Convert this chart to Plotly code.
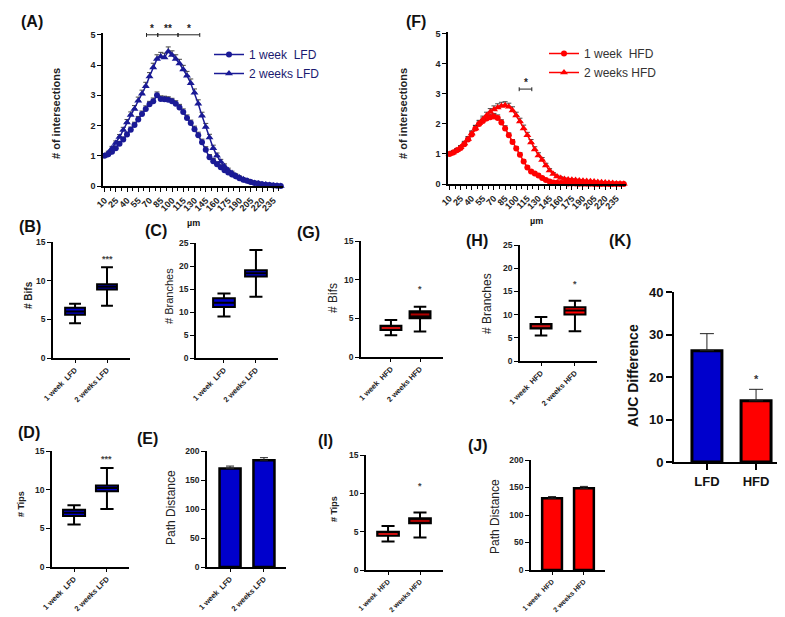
import plotly.graph_objects as go

W, H = 785, 617
FONT = "Liberation Sans, Arial, sans-serif"

# ---------------- data ----------------
radius_um = [10, 15, 20, 25, 30, 35, 40, 45, 50, 55,
             60, 65, 70, 75, 80, 85, 90, 95, 100, 105,
             110, 115, 120, 125, 130, 135, 140, 145, 150, 155,
             160, 165, 170, 175, 180, 185, 190, 195, 200, 205,
             210, 215, 220, 225, 230, 235, 240, 245]

lfd_1w = [1.00, 1.05, 1.13, 1.25, 1.40, 1.54, 1.70, 1.86, 2.02, 2.20,
          2.38, 2.55, 2.70, 2.80, 3.00, 2.88, 2.87, 2.85, 2.80, 2.72,
          2.60, 2.45, 2.25, 2.08, 1.88, 1.68, 1.45, 1.20, 0.95, 0.82,
          0.72, 0.62, 0.52, 0.45, 0.38, 0.32, 0.26, 0.21, 0.17, 0.13,
          0.10, 0.08, 0.06, 0.04, 0.03, 0.02, 0.01, 0.00]
lfd_1w_sem = [0.03, 0.04, 0.05, 0.06, 0.07, 0.08, 0.08, 0.09, 0.09, 0.10,
              0.10, 0.10, 0.10, 0.11, 0.11, 0.10, 0.10, 0.10, 0.10, 0.10,
              0.10, 0.10, 0.10, 0.10, 0.10, 0.10, 0.10, 0.10, 0.09, 0.09,
              0.08, 0.08, 0.07, 0.07, 0.06, 0.05, 0.05, 0.04, 0.04, 0.03,
              0.03, 0.03, 0.02, 0.02, 0.02, 0.01, 0.01, 0.01]
lfd_2w = [1.00, 1.10, 1.25, 1.42, 1.62, 1.85, 2.10, 2.35, 2.55, 2.82,
          3.05, 3.30, 3.62, 3.92, 4.20, 4.28, 4.25, 4.45, 4.33, 4.20,
          4.05, 3.85, 3.65, 3.40, 3.08, 2.72, 2.32, 1.95, 1.60, 1.25,
          1.00, 0.80, 0.65, 0.52, 0.43, 0.35, 0.28, 0.22, 0.17, 0.13,
          0.10, 0.08, 0.06, 0.05, 0.03, 0.02, 0.01, 0.00]
lfd_2w_sem = [0.03, 0.05, 0.06, 0.07, 0.08, 0.09, 0.10, 0.10, 0.11, 0.12,
              0.12, 0.13, 0.13, 0.14, 0.14, 0.14, 0.14, 0.15, 0.14, 0.14,
              0.14, 0.14, 0.14, 0.14, 0.13, 0.13, 0.12, 0.12, 0.11, 0.10,
              0.09, 0.08, 0.08, 0.07, 0.06, 0.05, 0.05, 0.04, 0.04, 0.03,
              0.03, 0.03, 0.02, 0.02, 0.02, 0.01, 0.01, 0.01]
hfd_1w = [1.00, 1.05, 1.12, 1.20, 1.32, 1.48, 1.65, 1.85, 2.00, 2.10,
          2.18, 2.22, 2.25, 2.20, 2.05, 1.85, 1.62, 1.40, 1.18, 0.97,
          0.75, 0.55, 0.42, 0.35, 0.28, 0.20, 0.13, 0.08, 0.05, 0.04,
          0.03, 0.03, 0.02, 0.02, 0.02, 0.01, 0.01, 0.01, 0.01, 0.00,
          0.00, 0.00, 0.00, 0.00, 0.00, 0.00, 0.00, 0.00]
hfd_1w_sem = [0.03, 0.04, 0.05, 0.06, 0.07, 0.08, 0.09, 0.10, 0.10, 0.10,
              0.10, 0.10, 0.10, 0.10, 0.09, 0.09, 0.08, 0.08, 0.07, 0.07,
              0.06, 0.05, 0.05, 0.04, 0.04, 0.03, 0.03, 0.02, 0.02, 0.02,
              0.01, 0.01, 0.01, 0.01, 0.01, 0.01, 0.01, 0.01, 0.01, 0.01,
              0.01, 0.01, 0.01, 0.01, 0.01, 0.01, 0.01, 0.01]
hfd_2w = [1.00, 1.05, 1.12, 1.22, 1.35, 1.50, 1.68, 1.85, 2.02, 2.15,
          2.28, 2.40, 2.48, 2.55, 2.60, 2.62, 2.57, 2.45, 2.28, 2.08,
          1.85, 1.62, 1.38, 1.15, 0.95, 0.80, 0.62, 0.45, 0.33, 0.25,
          0.20, 0.17, 0.15, 0.14, 0.13, 0.12, 0.11, 0.10, 0.09, 0.08,
          0.07, 0.06, 0.05, 0.04, 0.03, 0.02, 0.02, 0.01]
hfd_2w_sem = [0.03, 0.04, 0.05, 0.06, 0.07, 0.08, 0.09, 0.10, 0.10, 0.11,
              0.11, 0.11, 0.12, 0.12, 0.12, 0.12, 0.12, 0.12, 0.11, 0.11,
              0.11, 0.10, 0.10, 0.09, 0.09, 0.08, 0.07, 0.06, 0.05, 0.04,
              0.04, 0.03, 0.03, 0.03, 0.03, 0.02, 0.02, 0.02, 0.02, 0.02,
              0.02, 0.02, 0.01, 0.01, 0.01, 0.01, 0.01, 0.01]

lfd_brackets = [[66, 81, "*"], [81, 108, "**"], [108, 137, "*"]]
lfd_bracket_y = 5.0
hfd_brackets = [[104, 121, "*"]]
hfd_bracket_y = 3.16

groups_lfd = ["1 week  LFD", "2 weeks LFD"]
groups_hfd = ["1 week  HFD", "2 weeks HFD"]

# box summaries: [lowerfence, q1, median, q3, upperfence] per group
bifs_lfd = [[4.5, 5.6, 6.0, 6.5, 7.0], [6.75, 8.85, 9.2, 9.55, 11.75]]
branches_lfd = [[9.0, 11.1, 12.0, 13.0, 14.0], [13.3, 17.7, 18.4, 19.1, 23.5]]
tips_lfd = [[5.5, 6.6, 7.0, 7.4, 8.0], [7.5, 9.8, 10.2, 10.55, 12.8]]
bifs_hfd = [[2.8, 3.5, 3.75, 4.05, 4.8], [3.3, 5.0, 5.5, 5.9, 6.5]]
branches_hfd = [[5.5, 7.0, 7.5, 8.0, 9.5], [6.4, 10.0, 10.9, 11.6, 13.0]]
tips_hfd = [[3.73, 4.46, 4.7, 4.98, 5.75], [4.25, 6.1, 6.4, 6.74, 7.5]]

path_lfd = [170.0, 184.0]
path_lfd_sem = [4.0, 4.5]
path_hfd = [130.5, 148.5]
path_hfd_sem = [3.0, 3.5]

auc_groups = ["LFD", "HFD"]
auc_diff = [26.2, 14.4]
auc_sem = [4.0, 2.7]

stars = {"B": "***", "C": "***", "D": "***", "G": "*", "H": "*", "I": "*", "K": "*"}

# ---------------- styling ----------------
BLUE_LINE = "#1a1a96"
BLUE = "#0000cc"
RED = "#ff0000"

def dx(a, b):
    return [a / W, b / W]

def dy(top, bottom):
    return [1 - bottom / H, 1 - top / H]

AX = dict(showline=True, linecolor="black", linewidth=1.6, ticks="outside", ticklen=4,
          tickwidth=1.4, tickcolor="black", showgrid=False, zeroline=False,
          automargin=False, fixedrange=True)

fig = go.Figure()
layout = dict(width=W, height=H, margin=dict(l=0, r=0, t=0, b=0), autosize=False,
              paper_bgcolor="white", plot_bgcolor="white", showlegend=True,
              font=dict(family=FONT, color="#222"))
annotations = []
shapes = []


def refs(n):
    return ("x" if n == 1 else f"x{n}"), ("y" if n == 1 else f"y{n}")


def add_axes(n, xpx, ypx, xr, yr, ydt, xtickfont, ytickfont, xextra=None):
    xn = "xaxis" if n == 1 else f"xaxis{n}"
    yn = "yaxis" if n == 1 else f"yaxis{n}"
    xr_, yr_ = refs(n)
    xa = dict(AX, domain=dx(*xpx), range=xr, anchor=yr_, tickfont=xtickfont)
    if xextra:
        xa.update(xextra)
    ya = dict(AX, domain=dy(*ypx), range=yr, anchor=xr_, tickmode="linear", tick0=0,
              dtick=ydt, tickfont=ytickfont)
    layout[xn] = xa
    layout[yn] = ya


def tf(size, color="#222", bold=True):
    return dict(family=FONT, size=size, color=color, weight="bold" if bold else "normal")


def label(text, x, y, size=16, bold=True, angle=0, color="#111"):
    annotations.append(dict(text=text, x=x / W, y=1 - y / H, xref="paper", yref="paper",
                            showarrow=False, textangle=angle, xanchor="center", yanchor="middle",
                            font=tf(size, color, bold)))


# ---------------- Sholl panels (A, F) ----------------
sholl_x = dict(tickmode="linear", tick0=10, dtick=15, tickangle=-45,
               minor=dict(tickmode="linear", tick0=10, dtick=7.5, ticks="outside", ticklen=3,
                          tickwidth=1.2, tickcolor="black"))
add_axes(1, (95, 275), (25, 178), [8, 248], [0, 5.06], 1, tf(9), tf(9), sholl_x)
add_axes(2, (440, 618), (24, 176), [8, 248], [0, 5.06], 1, tf(9), tf(9), sholl_x)


def sholl(n, y, sem, name, color, symbol, size, legend):
    xr_, yr_ = refs(n)
    fig.add_trace(go.Scatter(x=radius_um, y=y, mode="lines+markers", name=name,
                             line=dict(color=color, width=1.5),
                             marker=dict(color=color, symbol=symbol, size=size),
                             error_y=dict(type="data", array=sem, arrayminus=[0] * len(sem),
                                          symmetric=False, color="#333", thickness=0.9, width=2.5),
                             cliponaxis=False, xaxis=xr_, yaxis=yr_, legend=legend))


sholl(1, lfd_1w, lfd_1w_sem, "1 week  LFD", BLUE_LINE, "circle", 6, "legend")
sholl(1, lfd_2w, lfd_2w_sem, "2 weeks LFD", BLUE_LINE, "triangle-up", 7, "legend")
sholl(2, hfd_1w, hfd_1w_sem, "1 week  HFD", RED, "circle", 6, "legend2")
sholl(2, hfd_2w, hfd_2w_sem, "2 weeks HFD", RED, "triangle-up", 7, "legend2")

layout["legend"] = dict(x=201 / W, y=1 - 32 / H, xanchor="left", yanchor="top",
                        bgcolor="rgba(0,0,0,0)", font=dict(family=FONT, size=12, color="#1a1a70"),
                        tracegroupgap=0)
layout["legend2"] = dict(x=536 / W, y=1 - 31 / H, xanchor="left", yanchor="top",
                         bgcolor="rgba(0,0,0,0)", font=dict(family=FONT, size=12, color="#333"),
                         tracegroupgap=0)


def brackets(n, items, yv):
    xr_, yr_ = refs(n)
    for a, b, s in items:
        shapes.append(dict(type="line", xref=xr_, yref=yr_, x0=a, x1=b, y0=yv, y1=yv,
                           line=dict(color="#222", width=1)))
        for e in (a, b):
            shapes.append(dict(type="line", xref=xr_, yref=yr_, x0=e, x1=e, y0=yv - 0.07, y1=yv + 0.06,
                               line=dict(color="#222", width=1)))
        annotations.append(dict(text=s, x=(a + b) / 2, y=yv, xref=xr_, yref=yr_, showarrow=False,
                                yanchor="bottom", yshift=-1, font=tf(10, "#222")))


brackets(1, lfd_brackets, lfd_bracket_y)
brackets(2, hfd_brackets, hfd_bracket_y)

# ---------------- box panels ----------------
cat_font = tf(7.5, "#222")
cat_font_small = tf(7, "#222")
num_font = tf(8.5, "#222")


def box_panel(n, xpx, ypx, xr, yr, ydt, groups, data, fills, median_colors, width, cf=cat_font):
    xr_, yr_ = refs(n)
    add_axes(n, xpx, ypx, xr, yr, ydt, cf, num_font,
             dict(tickmode="array", tickvals=[0, 1], ticktext=groups, tickangle=-45, ticklen=3))
    for i, d in enumerate(data):
        lf, q1, med, q3, uf = d
        fig.add_trace(go.Box(x=[i], lowerfence=[lf], q1=[q1], median=[med], q3=[q3],
                             upperfence=[uf], width=width, fillcolor=fills[i],
                             line=dict(color="black", width=2), whiskerwidth=0.6,
                             boxpoints=False, showlegend=False, hoverinfo="skip",
                             xaxis=xr_, yaxis=yr_))
        if median_colors[i]:
            fig.add_trace(go.Scatter(x=[i - width / 2 + 0.04, i + width / 2 - 0.04], y=[med, med],
                                     mode="lines", line=dict(color=median_colors[i], width=2),
                                     showlegend=False, hoverinfo="skip", xaxis=xr_, yaxis=yr_))


def star_at(n, x, y, s, size=9, color="#444"):
    xr_, yr_ = refs(n)
    annotations.append(dict(text=s, x=x, y=y, xref=xr_, yref=yr_, showarrow=False,
                            yanchor="middle", font=tf(size, color)))


box_panel(3, (45, 122), (234, 350), [-0.69, 1.72], [0, 15], 5, groups_lfd, bifs_lfd,
          [BLUE, BLUE], [None, None], 0.62)
star_at(3, 1, 12.8, stars["B"])
box_panel(4, (188, 270), (235, 350), [-0.875, 1.69], [0, 25], 5, groups_lfd, branches_lfd,
          [BLUE, BLUE], [None, None], 0.68)
star_at(4, 1, 25.3, stars["C"])
box_panel(5, (353, 435), (233, 349), [-1.03, 1.79], [0, 15], 5, groups_hfd, bifs_hfd,
          ["#0a0000", "#0a0000"], ["#d01010", "#b00000"], 0.72)
star_at(5, 1, 8.8, stars["G"])
box_panel(6, (512, 589), (237, 353), [-0.62, 1.65], [0, 25], 5, groups_hfd, branches_hfd,
          ["#0a0000", RED], ["#d01010", None], 0.62)
star_at(6, 1, 16.6, stars["H"])
box_panel(8, (44, 121), (443, 559), [-0.67, 1.67], [0, 15], 5, groups_lfd, tips_lfd,
          [BLUE, BLUE], [None, None], 0.67)
star_at(8, 1, 14.0, stars["D"])
box_panel(10, (358, 435), (447, 562), [-0.69, 1.72], [0, 15], 5, groups_hfd, tips_hfd,
          ["#0a0000", "#0a0000"], ["#d01010", "#b00000"], 0.68, cat_font_small)
star_at(10, 1, 10.9, stars["I"])

# ---------------- bar panels ----------------

def bar_panel(n, xpx, ypx, xr, yr, ydt, groups, vals, sems, colors, width, catfont, numfont,
              angle, lw=2.5, capw=4, tl=3):
    xr_, yr_ = refs(n)
    add_axes(n, xpx, ypx, xr, yr, ydt, catfont, numfont,
             dict(tickmode="array", tickvals=[0, 1], ticktext=groups, tickangle=angle, ticklen=tl))
    fig.add_trace(go.Bar(x=[0, 1], y=vals, width=width,
                         marker=dict(color=colors, line=dict(color="black", width=lw)),
                         error_y=dict(type="data", array=sems, arrayminus=[0, 0], symmetric=False,
                                      color="#222", thickness=1, width=capw),
                         showlegend=False, hoverinfo="skip", xaxis=xr_, yaxis=yr_))


bar_panel(9, (199, 278), (443, 559), [-0.68, 1.65], [0, 200], 50, groups_lfd, path_lfd,
          path_lfd_sem, [BLUE, BLUE], 0.62, cat_font, num_font, -45)
bar_panel(11, (523, 597), (452, 562), [-0.66, 1.66], [0, 200], 50, groups_hfd, path_hfd,
          path_hfd_sem, [RED, RED], 0.62, cat_font_small, num_font, -45)
bar_panel(7, (666, 780), (284, 454), [-0.67, 1.65], [0, 40], 10, auc_groups, auc_diff,
          auc_sem, [BLUE, RED], 0.61, tf(13, "#111"), tf(13, "#111"), 0, lw=3, capw=7, tl=6)
star_at(7, 1, 19.6, stars["K"], size=11, color="#333")
layout["xaxis7"].update(linewidth=2, tickwidth=2)
layout["yaxis7"].update(linewidth=2, tickwidth=2, ticklen=6)

# ---------------- titles / labels ----------------
label("(A)", 24, 13, 16)
label("(F)", 408, 13, 16)
label("(B)", 22, 218, 16)
label("(C)", 148, 222, 16)
label("(G)", 300, 224, 16)
label("(H)", 469, 232, 16)
label("(K)", 612, 232, 16)
label("(D)", 21, 424, 16)
label("(E)", 139, 430, 16)
label("(I)", 317, 433, 16)
label("(J)", 470, 437, 16)

label("µm", 185, 215, 9)
label("µm", 528, 213, 9)

label("# of intersections", 48, 106, 11, angle=-90, color="#222")
label("# of intersections", 395, 106, 11, angle=-90, color="#222")
label("# Bifs", 21, 287, 10, angle=-90, color="#222")
label("# Branches", 161, 288, 11, bold=False, angle=-90, color="#222")
label("# Bifs", 325, 290, 12, bold=False, angle=-90, color="#222")
label("# Branches", 479, 296, 12, bold=False, angle=-90, color="#222")
label("# Tips", 13, 496, 9, angle=-90, color="#222")
label("Path Distance", 163, 500, 12, bold=False, angle=-90, color="#222")
label("# Tips", 326, 501, 9, angle=-90, color="#222")
label("Path Distance", 487, 509, 12, bold=False, angle=-90, color="#222")
label("AUC Difference", 625, 368, 14, angle=-90, color="#111")

layout["annotations"] = annotations
layout["shapes"] = shapes
fig.update_layout(**layout)
fig.write_html("out.html")
